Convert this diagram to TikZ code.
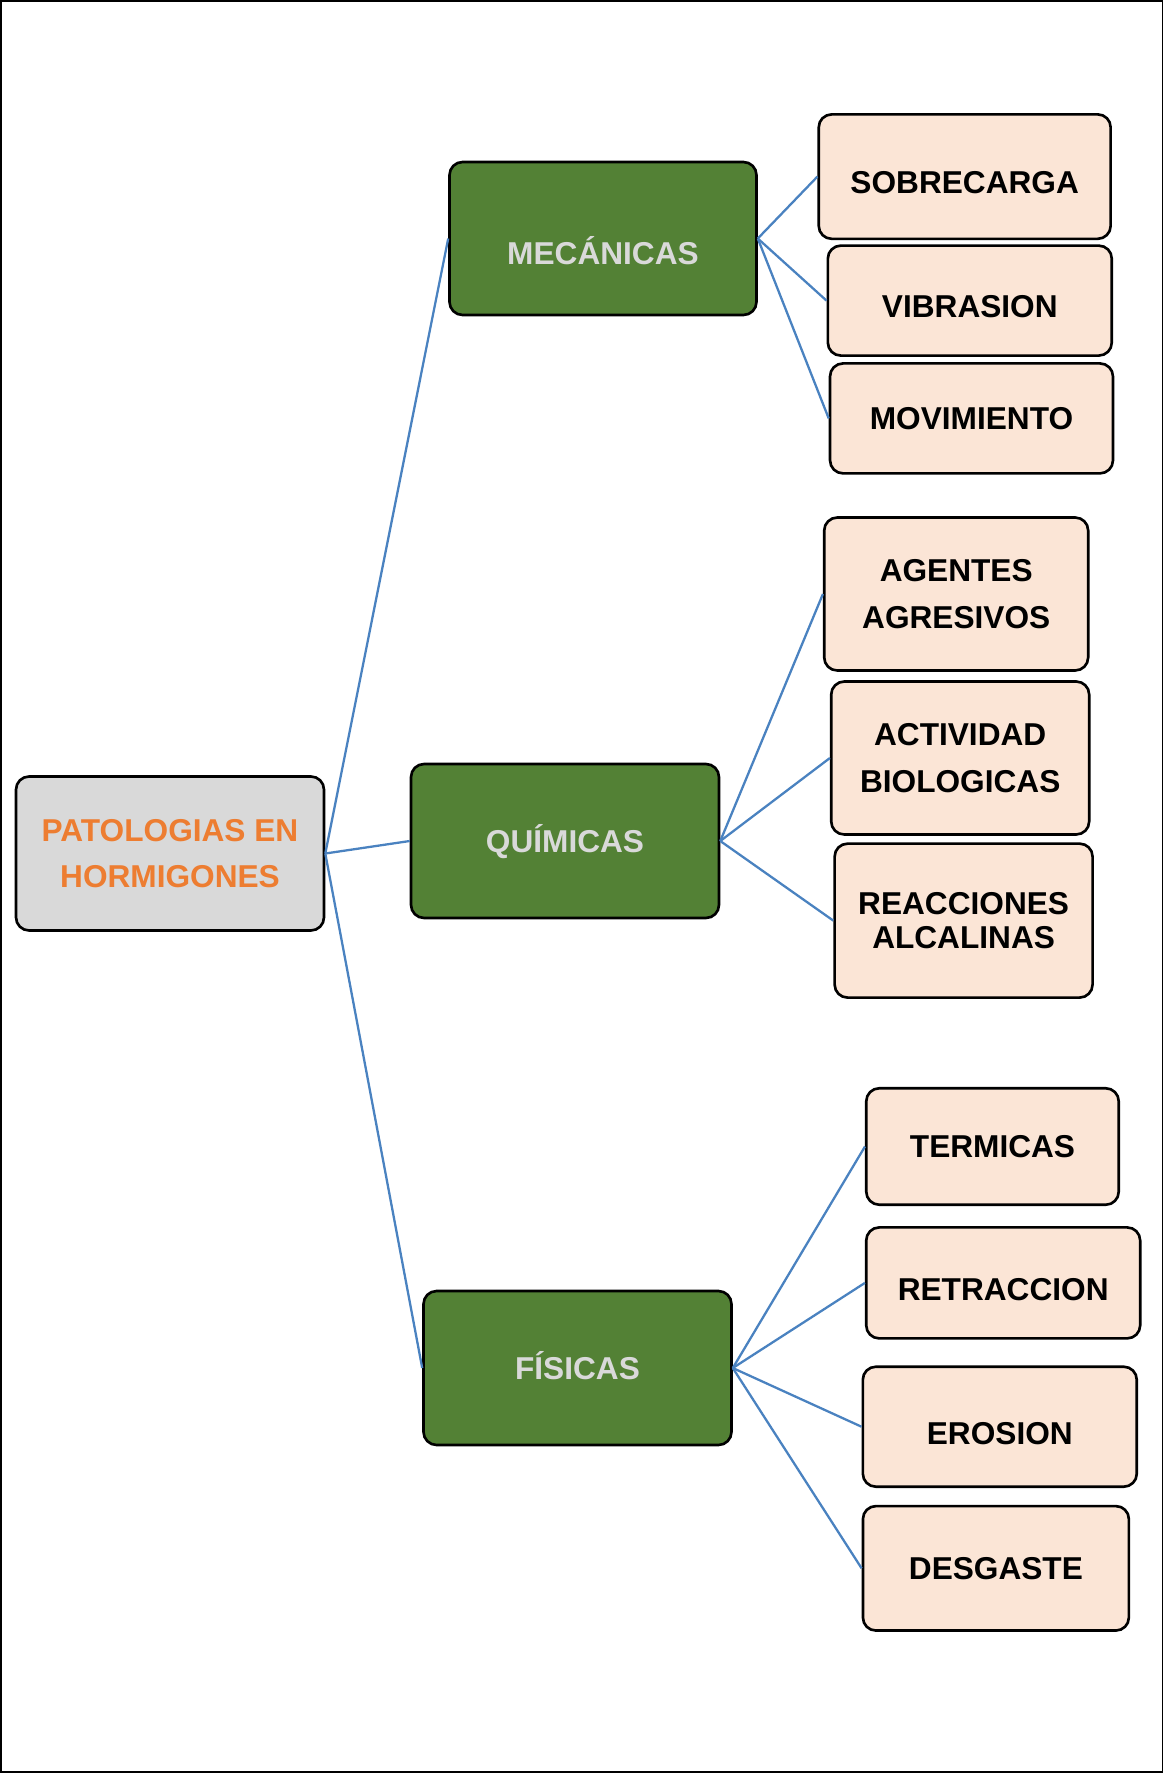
\documentclass[tikz,border=0pt]{standalone}
\usepackage{fontspec}
\setmainfont{Liberation Sans}
\definecolor{rootgray}{HTML}{D9D9D9}
\definecolor{rootorange}{HTML}{ED7D31}
\definecolor{groupgreen}{HTML}{538135}
\definecolor{leafpeach}{HTML}{FBE5D6}
\definecolor{linkblue}{HTML}{4A82C0}
\tikzset{box/.style={draw=black,line width=1.5pt,rounded corners=0.26cm,inner sep=0pt,
		align=center,font=\fontsize{18}{26.3}\selectfont\bfseries}}
\tikzset{root box/.style={box,fill=rootgray,text=rootorange,minimum width=6.16cm,minimum height=3.08cm}}
\tikzset{group box/.style={box,fill=groupgreen,text=rootgray,minimum width=6.16cm,minimum height=3.08cm,
		text height=12.9pt,text depth=0pt}}
\tikzset{leaf box/.style={box,fill=leafpeach,text=black}}
\tikzset{capline/.style={text height=#1,text depth=0pt},
		 capline/.default=12.9pt}
\tikzset{link/.style={linkblue,line width=1.3pt}}

\begin{document}
\begin{tikzpicture}[x=0.02cm,y=-0.02cm]
	\useasboundingbox (0,0) rectangle (1164,1776);
	\draw[line width=1.1pt] (0.7,0.7) rectangle (1162.5,1772);
	\node[root box] (root) at (170,853.5) {PATOLOGIAS EN\\HORMIGONES};
	\node[group box,minimum width=6.14cm,minimum height=3.06cm,text height=30pt] (mec) at (603,238.5) {MECÁNICAS};
	\node[group box] (qui) at (565,841) {QUÍMICAS};
	\node[group box] (fis) at (577.5,1368) {FÍSICAS};
	\node[leaf box,capline=19.4pt,minimum width=5.84cm,minimum height=2.49cm] (sob) at (964.7,176.6) {SOBRECARGA};
	\node[leaf box,capline=19.1pt,minimum width=5.68cm,minimum height=2.2cm] (vib) at (969.8,300.6) {VIBRASION};
	\node[leaf box,capline,minimum width=5.66cm,minimum height=2.2cm] (mov) at (971.5,418.4) {MOVIMIENTO};
	\node[leaf box,minimum width=5.28cm,minimum height=3.06cm] (age) at (956.2,594) {AGENTES\\AGRESIVOS};
	\node[leaf box,minimum width=5.16cm,minimum height=3.06cm] (act) at (960.2,758) {ACTIVIDAD\\BIOLOGICAS};
	\node[leaf box,minimum width=5.16cm,minimum height=3.08cm,font=\fontsize{18}{18.8}\selectfont\bfseries] (rea) at (963.6,920.6) {REACCIONES\\ALCALINAS};
	\node[leaf box,capline,minimum width=5.05cm,minimum height=2.33cm] (ter) at (992.5,1146.5) {TERMICAS};
	\node[leaf box,capline=19.7pt,minimum width=5.48cm,minimum height=2.22cm] (ret) at (1003.2,1282.9) {RETRACCION};
	\node[leaf box,capline=19.7pt,minimum width=5.48cm,minimum height=2.4cm] (ero) at (999.8,1426.7) {EROSION};
	\node[leaf box,capline,minimum width=5.32cm,minimum height=2.49cm] (des) at (995.9,1568.3) {DESGASTE};
	% ramas
	\foreach \g in {mec,qui,fis}
		\draw[link] (root.east) -- (\g.west);
	\foreach \l in {sob,vib,mov}
		\draw[link] (mec.east) -- (\l.west);
	\foreach \l in {age,act,rea}
		\draw[link] (qui.east) -- (\l.west);
	\foreach \l in {ter,ret,ero,des}
		\draw[link] (fis.east) -- (\l.west);
\end{tikzpicture}
\end{document}
